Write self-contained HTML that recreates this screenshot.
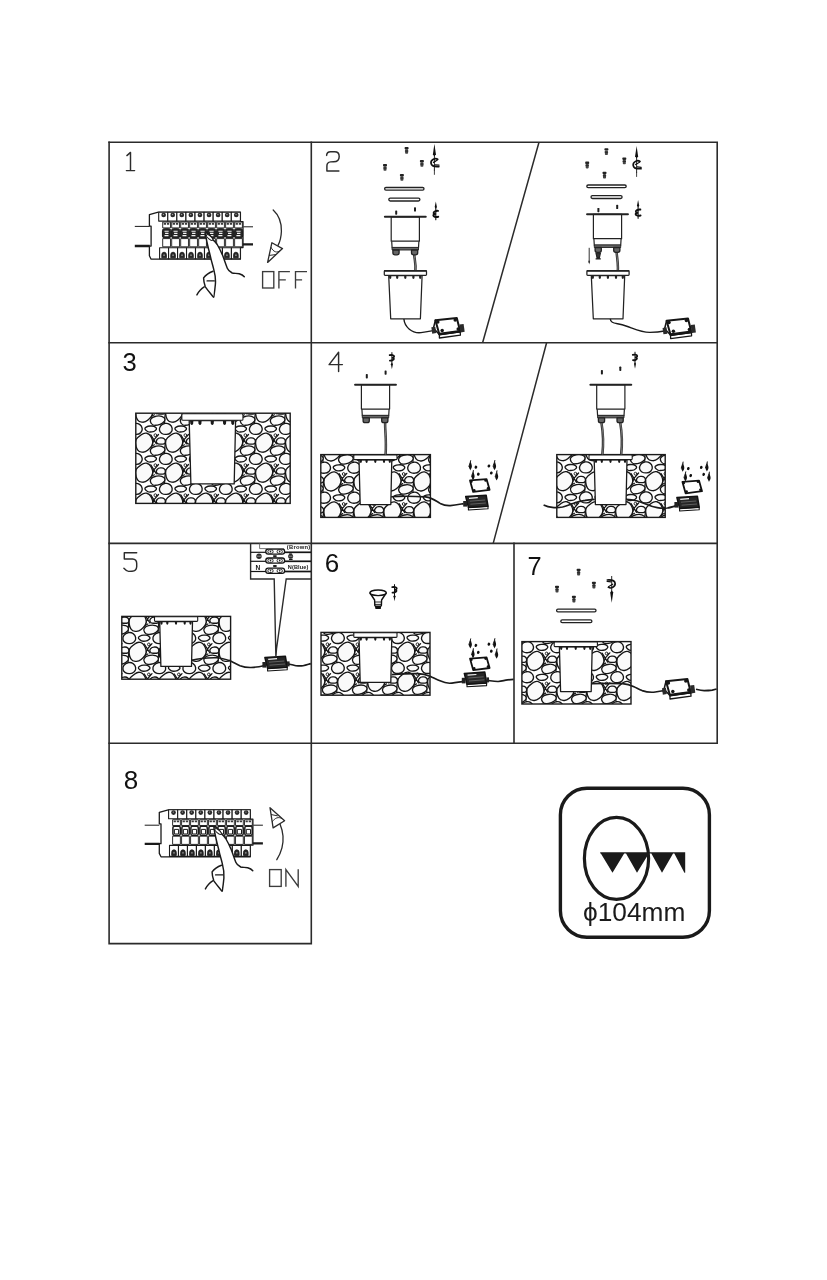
<!DOCTYPE html>
<html><head><meta charset="utf-8"><title>Installation</title>
<style>html,body{margin:0;padding:0;background:#fff;font-family:"Liberation Sans",sans-serif}svg{display:block;will-change:transform}</style>
</head><body>
<svg width="827" height="1280" viewBox="0 0 827 1280">
<rect width="827" height="1280" fill="#fff"/>
<defs>
<g id="gl" fill="none" stroke="#161616" stroke-width="1.25" stroke-linejoin="round" stroke-linecap="round">
<path d="M-4.6 -0.4 L-1.5 4.6 L3.1 -0.7 M-1.5 4.6 L-4.4 12.3 M-1.5 4.6 L1 8.6 M10.4 4.6 L9.4 12.3 L9.2 17.4 M26.1 11.1 L29 9.6"/>
</g>
<g id="gs" fill="#fafafa" stroke="#161616" stroke-width="1.35" stroke-linejoin="round" stroke-linecap="round">
<path d="M10.16 7.59Q9.90 4.40 12.38 2.38L15.89 -0.47Q18.38 -2.49 20.90 -2.06L21.47 -1.96Q23.99 -1.54 25.46 1.31L26.24 2.83Q27.70 5.67 27.18 8.20L27.06 8.76Q26.54 11.29 24.15 13.42L22.25 15.10Q19.86 17.23 17.00 16.99L16.36 16.93Q13.50 16.70 12.16 14.65L11.87 14.19Q10.53 12.14 10.27 8.95Z"/>
<circle cx="0" cy="0" r="1.4" stroke-width="0.9" fill="#fff"/>
<path d="M1.22 7.31Q0.41 6.02 1.55 4.54L1.81 4.21Q2.95 2.73 4.95 2.65L5.83 2.61Q7.83 2.52 8.88 3.67L9.11 3.92Q10.16 5.06 9.92 6.78L9.87 7.16Q9.63 8.88 7.63 8.88L4.21 8.88Q2.21 8.88 1.40 7.59Z"/>
<path d="M-4.37 17.83Q-5.76 15.74 -4.61 14.02L-4.36 13.64Q-3.21 11.92 -0.28 11.27L1.07 10.98Q4.00 10.33 6.28 11.14L6.79 11.32Q9.08 12.13 9.42 13.75L9.49 14.11Q9.83 15.74 7.63 17.45L7.14 17.83Q4.95 19.55 1.97 19.88L0.30 20.07Q-2.68 20.40 -4.07 18.30Z"/>
<path d="M4.06 -5.24Q3.73 -7.05 5.02 -8.91L5.30 -9.33Q6.59 -11.19 9.12 -11.67L9.68 -11.77Q12.21 -12.25 14.07 -10.86L14.48 -10.56Q16.34 -9.17 16.68 -7.08L16.75 -6.61Q17.09 -4.51 15.56 -2.89L15.22 -2.53Q13.69 -0.91 11.17 -0.81L10.60 -0.79Q8.08 -0.69 6.45 -1.74L6.09 -1.98Q4.47 -3.03 4.14 -4.84Z"/>
<path d="M20.27 -5.27Q18.72 -6.83 20.43 -7.88L20.82 -8.11Q22.53 -9.16 24.73 -9.20L26.48 -9.23Q28.68 -9.26 30.06 -8.02L30.37 -7.75Q31.75 -6.51 30.37 -5.12L30.06 -4.82Q28.68 -3.43 26.49 -3.28L24.73 -3.16Q22.53 -3.01 20.98 -4.57Z"/>
</g>
<pattern id="gp" width="30" height="30" patternUnits="userSpaceOnUse">
<rect width="30" height="30" fill="#fff"/>
<use href="#gl" x="-30" y="-30"/>
<use href="#gl" x="-30" y="0"/>
<use href="#gl" x="-30" y="30"/>
<use href="#gl" x="0" y="-30"/>
<use href="#gl" x="0" y="0"/>
<use href="#gl" x="0" y="30"/>
<use href="#gl" x="30" y="-30"/>
<use href="#gl" x="30" y="0"/>
<use href="#gl" x="30" y="30"/>
<use href="#gs" x="-30" y="-30"/>
<use href="#gs" x="-30" y="0"/>
<use href="#gs" x="-30" y="30"/>
<use href="#gs" x="0" y="-30"/>
<use href="#gs" x="0" y="0"/>
<use href="#gs" x="0" y="30"/>
<use href="#gs" x="30" y="-30"/>
<use href="#gs" x="30" y="0"/>
<use href="#gs" x="30" y="30"/>
</pattern>
<g id="screw"><rect x="-2" y="-3.4" width="4" height="2.4" rx="0.8" fill="#222"/><rect x="-1.5" y="-1.2" width="3" height="4.6" rx="0.8" fill="#444"/><rect x="-1.7" y="0.2" width="3.4" height="0.9" fill="#262626"/></g>
<g id="twist" fill="none" stroke="#111" stroke-linecap="round"><path d="M0 0 L1.5 10.4 L0 12.6 L-1.5 10.4Z" fill="#111" stroke="none"/><path d="M0 10 L0 26.4" stroke-width="0.9"/><path d="M3.2 15.6 C1 13.6 -3.8 16 -3.4 19.4 C-3 22.6 1.6 23 4.4 22.8" stroke-width="1.7"/><path d="M-1 18.6 C1 17.2 3.6 16.6 3.4 15.4 M0.6 21 L4.6 21.4" stroke-width="1.2"/></g>
<g id="twists" fill="none" stroke="#111" stroke-linecap="round"><path d="M0 0 L1 5 L0 6.6 L-1 5Z" fill="#111" stroke="none"/><path d="M0 5 L0 16.6" stroke-width="1"/><path d="M2 8.6 C0.4 8.4 -2.2 9.2 -2 10.6 C-1.8 11.6 -0.6 11.4 0 11.4 C-1 11.4 -2.4 11.8 -2.2 13 C-2 14.2 0.4 14.4 2.2 14" stroke-width="1.8"/></g>
<g id="topfix" fill="#fff" stroke="#222" stroke-width="1.2" stroke-linejoin="round">
<path d="M-13.6 24.4 L-13.2 31 L13.2 31 L13.6 24.4"/>
<rect x="-14.1" y="0" width="28.2" height="24.4"/>
<rect x="-13.2" y="30.6" width="26.4" height="2.6" fill="#666" stroke-width="0.9"/>
<path d="M-12.4 33.2 L-12.4 36 Q-12.4 38 -10.4 38 L-8.2 38 Q-6.2 38 -6.2 36 L-6.2 33.2Z" fill="#666" stroke-width="1.3"/>
<path d="M6.2 33.2 L6.2 36 Q6.2 38 8.2 38 L10.4 38 Q12.4 38 12.4 36 L12.4 33.2Z" fill="#666" stroke-width="1.3"/>
<path d="M-20.4 0 L20.4 0" stroke-width="2.1" stroke-linecap="round"/>
</g>
<g id="pin"><rect x="-1" y="-2.2" width="2" height="4.4" rx="0.7" fill="#1c1c1c"/></g>
<g id="housing" fill="#fff" stroke="#222" stroke-width="1.25" stroke-linejoin="round">
<path d="M-16.7 5 L16.7 5 L15 48.2 L-14.7 48.2Z"/>
<path d="M-16.3 5 l0 2.2 a1.1 1.1 0 0 0 2.2 0 l0 -2.2Z" fill="#222" stroke="none"/>
<path d="M-9.3 5 l0 2.2 a1.1 1.1 0 0 0 2.2 0 l0 -2.2Z" fill="#222" stroke="none"/>
<path d="M-1.2 5 l0 2.2 a1.1 1.1 0 0 0 2.2 0 l0 -2.2Z" fill="#222" stroke="none"/>
<path d="M6.9 5 l0 2.2 a1.1 1.1 0 0 0 2.2 0 l0 -2.2Z" fill="#222" stroke="none"/>
<path d="M13.7 5 l0 2.2 a1.1 1.1 0 0 0 2.2 0 l0 -2.2Z" fill="#222" stroke="none"/>
<rect x="-21.1" y="0" width="42.2" height="4.8" rx="0.8"/>
<path d="M-21.1 0.2 L21.1 0.2" stroke-width="1.8"/>
</g>
<g id="rings" fill="#fff" stroke="#222" stroke-width="1.3"><rect x="-19.7" y="0.6" width="39.4" height="2.7" rx="1.35"/><rect x="-15.5" y="11.2" width="31.1" height="2.9" rx="1.45"/></g>
<g id="cbox" stroke="#151515" stroke-linejoin="round" stroke-linecap="round">
<path d="M-9.4 7 L-9.4 10.6 L11.6 7.8 L11.4 4.2Z" fill="#fff" stroke-width="1.3"/>
<path d="M-13.4 -7.2 L8 -9.4 L11.4 4.2 L-9.4 7Z" fill="#fff" stroke-width="2"/>
<path d="M-9.2 6.6 L11.2 3.9" fill="none" stroke-width="2.6"/>
<path d="M-13.4 -7.2 L-15.4 0.8 L-9.4 7" fill="none" stroke-width="1.5"/>
<circle cx="-11.0" cy="-5.4" r="1.75" fill="#151515" stroke="none"/>
<circle cx="6.4" cy="-7.4" r="1.75" fill="#151515" stroke="none"/>
<circle cx="-6.6" cy="3.2" r="1.75" fill="#151515" stroke="none"/>
<circle cx="9.4" cy="1.6" r="1.75" fill="#151515" stroke="none"/>
<rect x="-17" y="-0.4" width="4" height="6.4" fill="#2a2a2a" stroke="none" transform="rotate(-8 -15 3)"/>
<rect x="11.2" y="-3.2" width="4.2" height="8" fill="#2a2a2a" stroke="none" transform="rotate(-8 13 1)"/>
</g>
<g id="obase" stroke="#111" stroke-linejoin="round">
<path d="M-9 4 L-9 6.6 L10.6 5.4 L10.6 2.8Z" fill="#fff" stroke-width="1.1"/>
<path d="M-11.7 -6.8 L8.8 -8.1 L10.6 2.8 L-9 4Z" fill="#262626" stroke-width="1.5"/>
<path d="M-8.4 -5 L0.4 -5.7" stroke="#f2f2f2" stroke-width="1.2" fill="none"/>
<path d="M-7.6 -2.2 L7.6 -3.4 M-7 0.8 L8.4 -0.4" stroke="#777" stroke-width="0.7" fill="none"/>
<rect x="-14.2" y="-2.4" width="3.8" height="5.6" fill="#222" stroke="none"/>
</g>
<g id="lid" stroke="#111" stroke-linejoin="round">
<path d="M-9.8 -5 L6.8 -6.2 L9.8 4.4 L-6.6 6.5Z" fill="#fff" stroke-width="1.8"/>
<circle cx="-8.4" cy="-3.8" r="1.3" fill="#111" stroke="none"/>
<circle cx="5.8" cy="-5.0" r="1.3" fill="#111" stroke="none"/>
<circle cx="-5.6" cy="4.8" r="1.3" fill="#111" stroke="none"/>
<circle cx="8.2" cy="3.0" r="1.3" fill="#111" stroke="none"/>
</g>
<g id="fscrews" fill="#111" stroke="#111" stroke-linecap="round">
<path d="M-9.1 -24.8 C-8.9 -21.8 -7.8 -20.4 -7.9 -18.8 C-8.0 -17.2 -8.8 -16.4 -9.5 -15.0 C-10.0 -16.4 -11.0 -17.2 -10.9 -18.8Z" stroke="none"/>
<path d="M-10.9 -18.8 C-10.8 -20.6 -9.6 -21.8 -9.1 -24.8" fill="none" stroke-width="0.9"/>
<ellipse cx="-3.9" cy="-18.2" rx="1.35" ry="1.6" stroke="none" transform="rotate(20 -3.9 -18.2)"/>
<path d="M-6.4 -15.0 C-6.2 -12.0 -5.1 -10.6 -5.2 -9.0 C-5.3 -7.4 -6.1 -6.6 -6.8 -5.2 C-7.3 -6.6 -8.3 -7.4 -8.2 -9.0Z" stroke="none"/>
<path d="M-8.2 -9.0 C-8.1 -10.8 -6.9 -12.0 -6.4 -15.0" fill="none" stroke-width="0.9"/>
<ellipse cx="-1.5" cy="-11.2" rx="1.35" ry="1.6" stroke="none" transform="rotate(20 -1.5 -11.2)"/>
<ellipse cx="9.1" cy="-19.4" rx="1.35" ry="1.6" stroke="none" transform="rotate(20 9.1 -19.4)"/>
<path d="M15.1 -25.0 C15.3 -22.0 16.4 -20.6 16.3 -19.0 C16.2 -17.4 15.4 -16.6 14.7 -15.2 C14.2 -16.6 13.2 -17.4 13.3 -19.0Z" stroke="none"/>
<path d="M13.3 -19.0 C13.4 -20.8 14.6 -22.0 15.1 -25.0" fill="none" stroke-width="0.9"/>
<ellipse cx="11.5" cy="-12.4" rx="1.35" ry="1.6" stroke="none" transform="rotate(20 11.5 -12.4)"/>
<path d="M17.2 -14.7 C17.4 -11.7 18.5 -10.3 18.4 -8.7 C18.3 -7.1 17.5 -6.3 16.8 -4.9 C16.3 -6.3 15.3 -7.1 15.4 -8.7Z" stroke="none"/>
<path d="M15.4 -8.7 C15.5 -10.5 16.7 -11.7 17.2 -14.7" fill="none" stroke-width="0.9"/>
</g>
<clipPath id="gc1"><rect x="135.8" y="413.2" width="154.4" height="90.2"/></clipPath>
<clipPath id="gc2"><rect x="320.8" y="454.6" width="109.6" height="62.8"/></clipPath>
<clipPath id="gc3"><rect x="556.8" y="454.6" width="108.4" height="62.8"/></clipPath>
<clipPath id="gc4"><rect x="121.8" y="616.4" width="108.8" height="62.8"/></clipPath>
<clipPath id="gc5"><rect x="321.0" y="632.4" width="109.0" height="62.8"/></clipPath>
<clipPath id="gc6"><rect x="521.9" y="641.6" width="109.1" height="62.4"/></clipPath>
</defs>
<g stroke="#2b2b2b" stroke-width="1.6" fill="none" stroke-linecap="square"><path d="M109.1 142.2 H717.2 V743.2 H109.1"/><path d="M109.1 142.2 V943.6 H311.3 V142.2"/><path d="M109.1 342.8 H717.2 M109.1 543.4 H717.2"/><path d="M514 543.4 V743.2"/><path d="M539 142.2 L482.6 342.8 M546.6 342.8 L493.2 543.4" stroke-width="1.5" stroke-linecap="butt"/></g>
<g font-family="Liberation Sans, sans-serif" fill="#111"><text x="122.6" y="370.6" font-size="25.6">3</text><text x="324.8" y="571.5" font-size="26">6</text><text x="527.5" y="574.6" font-size="25.4">7</text><text x="123.8" y="789.3" font-size="26">8</text></g>
<g fill="none" stroke="#2c2c2c" stroke-width="1.45" stroke-linecap="round" stroke-linejoin="round"><path d="M126.9 155.6 L130.5 152.4 L130.5 170.6 M126.4 170.6 L134.6 170.6"/><path d="M326.6 155.4 Q326.8 151.8 330.6 151.8 L334.6 151.8 Q339.2 151.8 339.2 156.4 Q339.2 161.6 333.6 161.8 L330.6 161.9 Q326.9 162.2 326.9 166 L326.9 170.9 L338.9 170.9"/><path d="M338.6 371.4 L338.6 352.3 L329.1 364.6 L342.4 364.6"/><path d="M136.7 552.7 L124.3 552.7 L124.3 559 L132.6 559 Q136.7 559.4 136.7 563.4 L136.7 566.8 Q136.5 571 132 571.2 L128.6 571.4 Q126.6 571.2 123.9 568.2"/></g>
<rect x="135.8" y="413.2" width="154.4" height="90.2" fill="#fff"/>
<g clip-path="url(#gc1)">
<use href="#gl" x="125.4" y="405.2"/>
<use href="#gl" x="125.4" y="435.2"/>
<use href="#gl" x="125.4" y="465.2"/>
<use href="#gl" x="125.4" y="495.2"/>
<use href="#gl" x="155.4" y="405.2"/>
<use href="#gl" x="155.4" y="435.2"/>
<use href="#gl" x="155.4" y="465.2"/>
<use href="#gl" x="155.4" y="495.2"/>
<use href="#gl" x="185.4" y="405.2"/>
<use href="#gl" x="185.4" y="435.2"/>
<use href="#gl" x="185.4" y="465.2"/>
<use href="#gl" x="185.4" y="495.2"/>
<use href="#gl" x="215.4" y="405.2"/>
<use href="#gl" x="215.4" y="435.2"/>
<use href="#gl" x="215.4" y="465.2"/>
<use href="#gl" x="215.4" y="495.2"/>
<use href="#gl" x="245.4" y="405.2"/>
<use href="#gl" x="245.4" y="435.2"/>
<use href="#gl" x="245.4" y="465.2"/>
<use href="#gl" x="245.4" y="495.2"/>
<use href="#gl" x="275.4" y="405.2"/>
<use href="#gl" x="275.4" y="435.2"/>
<use href="#gl" x="275.4" y="465.2"/>
<use href="#gl" x="275.4" y="495.2"/>
<use href="#gs" x="125.4" y="405.2"/>
<use href="#gs" x="125.4" y="435.2"/>
<use href="#gs" x="125.4" y="465.2"/>
<use href="#gs" x="125.4" y="495.2"/>
<use href="#gs" x="155.4" y="405.2"/>
<use href="#gs" x="155.4" y="435.2"/>
<use href="#gs" x="155.4" y="465.2"/>
<use href="#gs" x="155.4" y="495.2"/>
<use href="#gs" x="185.4" y="405.2"/>
<use href="#gs" x="185.4" y="435.2"/>
<use href="#gs" x="185.4" y="465.2"/>
<use href="#gs" x="185.4" y="495.2"/>
<use href="#gs" x="215.4" y="405.2"/>
<use href="#gs" x="215.4" y="435.2"/>
<use href="#gs" x="215.4" y="465.2"/>
<use href="#gs" x="215.4" y="495.2"/>
<use href="#gs" x="245.4" y="405.2"/>
<use href="#gs" x="245.4" y="435.2"/>
<use href="#gs" x="245.4" y="465.2"/>
<use href="#gs" x="245.4" y="495.2"/>
<use href="#gs" x="275.4" y="405.2"/>
<use href="#gs" x="275.4" y="435.2"/>
<use href="#gs" x="275.4" y="465.2"/>
<use href="#gs" x="275.4" y="495.2"/>
</g>
<rect x="135.8" y="413.2" width="154.4" height="90.2" fill="none" stroke="#1a1a1a" stroke-width="1.4"/>
<g transform="translate(212.4 413.2) scale(1.415)" fill="#fff" stroke="#1a1a1a" stroke-width="0.92" stroke-linejoin="round">
<path d="M-16.4 5.2 L16.4 5.2 L15.4 50 L-15.2 50Z"/>
<path d="M-15.8 5.2 l0.2 2.2 q1.1 2 2 0 l0.2 -2.2Z" fill="#1a1a1a" stroke="none"/>
<path d="M-10.0 5.2 l0.2 2.2 q1.1 2 2 0 l0.2 -2.2Z" fill="#1a1a1a" stroke="none"/>
<path d="M-1.3 5.2 l0.2 2.2 q1.1 2 2 0 l0.2 -2.2Z" fill="#1a1a1a" stroke="none"/>
<path d="M7.4 5.2 l0.2 2.2 q1.1 2 2 0 l0.2 -2.2Z" fill="#1a1a1a" stroke="none"/>
<path d="M13.2 5.2 l0.2 2.2 q1.1 2 2 0 l0.2 -2.2Z" fill="#1a1a1a" stroke="none"/>
<rect x="-21.6" y="0.4" width="43.2" height="4.6" rx="0.8" stroke-width="0.78"/>
</g>
<rect x="320.8" y="454.6" width="109.6" height="62.8" fill="#fff"/>
<g clip-path="url(#gc2)">
<use href="#gl" x="313.7" y="444.0"/>
<use href="#gl" x="313.7" y="474.0"/>
<use href="#gl" x="313.7" y="504.0"/>
<use href="#gl" x="343.7" y="444.0"/>
<use href="#gl" x="343.7" y="474.0"/>
<use href="#gl" x="343.7" y="504.0"/>
<use href="#gl" x="373.7" y="444.0"/>
<use href="#gl" x="373.7" y="474.0"/>
<use href="#gl" x="373.7" y="504.0"/>
<use href="#gl" x="403.7" y="444.0"/>
<use href="#gl" x="403.7" y="474.0"/>
<use href="#gl" x="403.7" y="504.0"/>
<use href="#gl" x="433.7" y="444.0"/>
<use href="#gl" x="433.7" y="474.0"/>
<use href="#gl" x="433.7" y="504.0"/>
<use href="#gs" x="313.7" y="444.0"/>
<use href="#gs" x="313.7" y="474.0"/>
<use href="#gs" x="313.7" y="504.0"/>
<use href="#gs" x="343.7" y="444.0"/>
<use href="#gs" x="343.7" y="474.0"/>
<use href="#gs" x="343.7" y="504.0"/>
<use href="#gs" x="373.7" y="444.0"/>
<use href="#gs" x="373.7" y="474.0"/>
<use href="#gs" x="373.7" y="504.0"/>
<use href="#gs" x="403.7" y="444.0"/>
<use href="#gs" x="403.7" y="474.0"/>
<use href="#gs" x="403.7" y="504.0"/>
<use href="#gs" x="433.7" y="444.0"/>
<use href="#gs" x="433.7" y="474.0"/>
<use href="#gs" x="433.7" y="504.0"/>
</g>
<rect x="320.8" y="454.6" width="109.6" height="62.8" fill="none" stroke="#1a1a1a" stroke-width="1.4"/>
<g transform="translate(375.4 454.6) scale(1.000)" fill="#fff" stroke="#1a1a1a" stroke-width="1.30" stroke-linejoin="round">
<path d="M-16.4 5.2 L16.4 5.2 L15.4 50 L-15.2 50Z"/>
<path d="M-15.8 5.2 l0.2 2.2 q1.1 2 2 0 l0.2 -2.2Z" fill="#1a1a1a" stroke="none"/>
<path d="M-10.0 5.2 l0.2 2.2 q1.1 2 2 0 l0.2 -2.2Z" fill="#1a1a1a" stroke="none"/>
<path d="M-1.3 5.2 l0.2 2.2 q1.1 2 2 0 l0.2 -2.2Z" fill="#1a1a1a" stroke="none"/>
<path d="M7.4 5.2 l0.2 2.2 q1.1 2 2 0 l0.2 -2.2Z" fill="#1a1a1a" stroke="none"/>
<path d="M13.2 5.2 l0.2 2.2 q1.1 2 2 0 l0.2 -2.2Z" fill="#1a1a1a" stroke="none"/>
<rect x="-21.6" y="0.4" width="43.2" height="4.6" rx="0.8" stroke-width="1.10"/>
</g>
<rect x="556.8" y="454.6" width="108.4" height="62.8" fill="#fff"/>
<g clip-path="url(#gc3)">
<use href="#gl" x="545.5" y="443.7"/>
<use href="#gl" x="545.5" y="473.7"/>
<use href="#gl" x="545.5" y="503.7"/>
<use href="#gl" x="575.5" y="443.7"/>
<use href="#gl" x="575.5" y="473.7"/>
<use href="#gl" x="575.5" y="503.7"/>
<use href="#gl" x="605.5" y="443.7"/>
<use href="#gl" x="605.5" y="473.7"/>
<use href="#gl" x="605.5" y="503.7"/>
<use href="#gl" x="635.5" y="443.7"/>
<use href="#gl" x="635.5" y="473.7"/>
<use href="#gl" x="635.5" y="503.7"/>
<use href="#gl" x="665.5" y="443.7"/>
<use href="#gl" x="665.5" y="473.7"/>
<use href="#gl" x="665.5" y="503.7"/>
<use href="#gs" x="545.5" y="443.7"/>
<use href="#gs" x="545.5" y="473.7"/>
<use href="#gs" x="545.5" y="503.7"/>
<use href="#gs" x="575.5" y="443.7"/>
<use href="#gs" x="575.5" y="473.7"/>
<use href="#gs" x="575.5" y="503.7"/>
<use href="#gs" x="605.5" y="443.7"/>
<use href="#gs" x="605.5" y="473.7"/>
<use href="#gs" x="605.5" y="503.7"/>
<use href="#gs" x="635.5" y="443.7"/>
<use href="#gs" x="635.5" y="473.7"/>
<use href="#gs" x="635.5" y="503.7"/>
<use href="#gs" x="665.5" y="443.7"/>
<use href="#gs" x="665.5" y="473.7"/>
<use href="#gs" x="665.5" y="503.7"/>
</g>
<rect x="556.8" y="454.6" width="108.4" height="62.8" fill="none" stroke="#1a1a1a" stroke-width="1.4"/>
<g transform="translate(610.6 454.6) scale(1.000)" fill="#fff" stroke="#1a1a1a" stroke-width="1.30" stroke-linejoin="round">
<path d="M-16.4 5.2 L16.4 5.2 L15.4 50 L-15.2 50Z"/>
<path d="M-15.8 5.2 l0.2 2.2 q1.1 2 2 0 l0.2 -2.2Z" fill="#1a1a1a" stroke="none"/>
<path d="M-10.0 5.2 l0.2 2.2 q1.1 2 2 0 l0.2 -2.2Z" fill="#1a1a1a" stroke="none"/>
<path d="M-1.3 5.2 l0.2 2.2 q1.1 2 2 0 l0.2 -2.2Z" fill="#1a1a1a" stroke="none"/>
<path d="M7.4 5.2 l0.2 2.2 q1.1 2 2 0 l0.2 -2.2Z" fill="#1a1a1a" stroke="none"/>
<path d="M13.2 5.2 l0.2 2.2 q1.1 2 2 0 l0.2 -2.2Z" fill="#1a1a1a" stroke="none"/>
<rect x="-21.6" y="0.4" width="43.2" height="4.6" rx="0.8" stroke-width="1.10"/>
</g>
<rect x="121.8" y="616.4" width="108.8" height="62.8" fill="#fff"/>
<g clip-path="url(#gc4)">
<use href="#gl" x="118.9" y="614.4"/>
<use href="#gl" x="118.9" y="644.4"/>
<use href="#gl" x="118.9" y="674.4"/>
<use href="#gl" x="148.9" y="614.4"/>
<use href="#gl" x="148.9" y="644.4"/>
<use href="#gl" x="148.9" y="674.4"/>
<use href="#gl" x="178.9" y="614.4"/>
<use href="#gl" x="178.9" y="644.4"/>
<use href="#gl" x="178.9" y="674.4"/>
<use href="#gl" x="208.9" y="614.4"/>
<use href="#gl" x="208.9" y="644.4"/>
<use href="#gl" x="208.9" y="674.4"/>
<use href="#gs" x="118.9" y="614.4"/>
<use href="#gs" x="118.9" y="644.4"/>
<use href="#gs" x="118.9" y="674.4"/>
<use href="#gs" x="148.9" y="614.4"/>
<use href="#gs" x="148.9" y="644.4"/>
<use href="#gs" x="148.9" y="674.4"/>
<use href="#gs" x="178.9" y="614.4"/>
<use href="#gs" x="178.9" y="644.4"/>
<use href="#gs" x="178.9" y="674.4"/>
<use href="#gs" x="208.9" y="614.4"/>
<use href="#gs" x="208.9" y="644.4"/>
<use href="#gs" x="208.9" y="674.4"/>
</g>
<rect x="121.8" y="616.4" width="108.8" height="62.8" fill="none" stroke="#1a1a1a" stroke-width="1.4"/>
<g transform="translate(176.1 616.4) scale(1.000)" fill="#fff" stroke="#1a1a1a" stroke-width="1.30" stroke-linejoin="round">
<path d="M-16.4 5.2 L16.4 5.2 L15.4 50 L-15.2 50Z"/>
<path d="M-15.8 5.2 l0.2 2.2 q1.1 2 2 0 l0.2 -2.2Z" fill="#1a1a1a" stroke="none"/>
<path d="M-10.0 5.2 l0.2 2.2 q1.1 2 2 0 l0.2 -2.2Z" fill="#1a1a1a" stroke="none"/>
<path d="M-1.3 5.2 l0.2 2.2 q1.1 2 2 0 l0.2 -2.2Z" fill="#1a1a1a" stroke="none"/>
<path d="M7.4 5.2 l0.2 2.2 q1.1 2 2 0 l0.2 -2.2Z" fill="#1a1a1a" stroke="none"/>
<path d="M13.2 5.2 l0.2 2.2 q1.1 2 2 0 l0.2 -2.2Z" fill="#1a1a1a" stroke="none"/>
<rect x="-21.6" y="0.4" width="43.2" height="4.6" rx="0.8" stroke-width="1.10"/>
</g>
<rect x="321.0" y="632.4" width="109.0" height="62.8" fill="#fff"/>
<g clip-path="url(#gc5)">
<use href="#gl" x="297.5" y="614.3"/>
<use href="#gl" x="297.5" y="644.3"/>
<use href="#gl" x="297.5" y="674.3"/>
<use href="#gl" x="297.5" y="704.3"/>
<use href="#gl" x="327.5" y="614.3"/>
<use href="#gl" x="327.5" y="644.3"/>
<use href="#gl" x="327.5" y="674.3"/>
<use href="#gl" x="327.5" y="704.3"/>
<use href="#gl" x="357.5" y="614.3"/>
<use href="#gl" x="357.5" y="644.3"/>
<use href="#gl" x="357.5" y="674.3"/>
<use href="#gl" x="357.5" y="704.3"/>
<use href="#gl" x="387.5" y="614.3"/>
<use href="#gl" x="387.5" y="644.3"/>
<use href="#gl" x="387.5" y="674.3"/>
<use href="#gl" x="387.5" y="704.3"/>
<use href="#gl" x="417.5" y="614.3"/>
<use href="#gl" x="417.5" y="644.3"/>
<use href="#gl" x="417.5" y="674.3"/>
<use href="#gl" x="417.5" y="704.3"/>
<use href="#gs" x="297.5" y="614.3"/>
<use href="#gs" x="297.5" y="644.3"/>
<use href="#gs" x="297.5" y="674.3"/>
<use href="#gs" x="297.5" y="704.3"/>
<use href="#gs" x="327.5" y="614.3"/>
<use href="#gs" x="327.5" y="644.3"/>
<use href="#gs" x="327.5" y="674.3"/>
<use href="#gs" x="327.5" y="704.3"/>
<use href="#gs" x="357.5" y="614.3"/>
<use href="#gs" x="357.5" y="644.3"/>
<use href="#gs" x="357.5" y="674.3"/>
<use href="#gs" x="357.5" y="704.3"/>
<use href="#gs" x="387.5" y="614.3"/>
<use href="#gs" x="387.5" y="644.3"/>
<use href="#gs" x="387.5" y="674.3"/>
<use href="#gs" x="387.5" y="704.3"/>
<use href="#gs" x="417.5" y="614.3"/>
<use href="#gs" x="417.5" y="644.3"/>
<use href="#gs" x="417.5" y="674.3"/>
<use href="#gs" x="417.5" y="704.3"/>
</g>
<rect x="321.0" y="632.4" width="109.0" height="62.8" fill="none" stroke="#1a1a1a" stroke-width="1.4"/>
<g transform="translate(375.4 632.4) scale(1.000)" fill="#fff" stroke="#1a1a1a" stroke-width="1.30" stroke-linejoin="round">
<path d="M-16.4 5.2 L16.4 5.2 L15.4 50 L-15.2 50Z"/>
<path d="M-15.8 5.2 l0.2 2.2 q1.1 2 2 0 l0.2 -2.2Z" fill="#1a1a1a" stroke="none"/>
<path d="M-10.0 5.2 l0.2 2.2 q1.1 2 2 0 l0.2 -2.2Z" fill="#1a1a1a" stroke="none"/>
<path d="M-1.3 5.2 l0.2 2.2 q1.1 2 2 0 l0.2 -2.2Z" fill="#1a1a1a" stroke="none"/>
<path d="M7.4 5.2 l0.2 2.2 q1.1 2 2 0 l0.2 -2.2Z" fill="#1a1a1a" stroke="none"/>
<path d="M13.2 5.2 l0.2 2.2 q1.1 2 2 0 l0.2 -2.2Z" fill="#1a1a1a" stroke="none"/>
<rect x="-21.6" y="0.4" width="43.2" height="4.6" rx="0.8" stroke-width="1.10"/>
</g>
<rect x="521.9" y="641.6" width="109.1" height="62.4" fill="#fff"/>
<g clip-path="url(#gc6)">
<use href="#gl" x="516.7" y="623.5"/>
<use href="#gl" x="516.7" y="653.5"/>
<use href="#gl" x="516.7" y="683.5"/>
<use href="#gl" x="516.7" y="713.5"/>
<use href="#gl" x="546.7" y="623.5"/>
<use href="#gl" x="546.7" y="653.5"/>
<use href="#gl" x="546.7" y="683.5"/>
<use href="#gl" x="546.7" y="713.5"/>
<use href="#gl" x="576.7" y="623.5"/>
<use href="#gl" x="576.7" y="653.5"/>
<use href="#gl" x="576.7" y="683.5"/>
<use href="#gl" x="576.7" y="713.5"/>
<use href="#gl" x="606.7" y="623.5"/>
<use href="#gl" x="606.7" y="653.5"/>
<use href="#gl" x="606.7" y="683.5"/>
<use href="#gl" x="606.7" y="713.5"/>
<use href="#gl" x="636.7" y="623.5"/>
<use href="#gl" x="636.7" y="653.5"/>
<use href="#gl" x="636.7" y="683.5"/>
<use href="#gl" x="636.7" y="713.5"/>
<use href="#gs" x="516.7" y="623.5"/>
<use href="#gs" x="516.7" y="653.5"/>
<use href="#gs" x="516.7" y="683.5"/>
<use href="#gs" x="516.7" y="713.5"/>
<use href="#gs" x="546.7" y="623.5"/>
<use href="#gs" x="546.7" y="653.5"/>
<use href="#gs" x="546.7" y="683.5"/>
<use href="#gs" x="546.7" y="713.5"/>
<use href="#gs" x="576.7" y="623.5"/>
<use href="#gs" x="576.7" y="653.5"/>
<use href="#gs" x="576.7" y="683.5"/>
<use href="#gs" x="576.7" y="713.5"/>
<use href="#gs" x="606.7" y="623.5"/>
<use href="#gs" x="606.7" y="653.5"/>
<use href="#gs" x="606.7" y="683.5"/>
<use href="#gs" x="606.7" y="713.5"/>
<use href="#gs" x="636.7" y="623.5"/>
<use href="#gs" x="636.7" y="653.5"/>
<use href="#gs" x="636.7" y="683.5"/>
<use href="#gs" x="636.7" y="713.5"/>
</g>
<rect x="521.9" y="641.6" width="109.1" height="62.4" fill="none" stroke="#1a1a1a" stroke-width="1.4"/>
<g transform="translate(575.8 641.6) scale(1.000)" fill="#fff" stroke="#1a1a1a" stroke-width="1.30" stroke-linejoin="round">
<path d="M-16.4 5.2 L16.4 5.2 L15.4 50 L-15.2 50Z"/>
<path d="M-15.8 5.2 l0.2 2.2 q1.1 2 2 0 l0.2 -2.2Z" fill="#1a1a1a" stroke="none"/>
<path d="M-10.0 5.2 l0.2 2.2 q1.1 2 2 0 l0.2 -2.2Z" fill="#1a1a1a" stroke="none"/>
<path d="M-1.3 5.2 l0.2 2.2 q1.1 2 2 0 l0.2 -2.2Z" fill="#1a1a1a" stroke="none"/>
<path d="M7.4 5.2 l0.2 2.2 q1.1 2 2 0 l0.2 -2.2Z" fill="#1a1a1a" stroke="none"/>
<path d="M13.2 5.2 l0.2 2.2 q1.1 2 2 0 l0.2 -2.2Z" fill="#1a1a1a" stroke="none"/>
<rect x="-21.6" y="0.4" width="43.2" height="4.6" rx="0.8" stroke-width="1.10"/>
</g>
<g transform="translate(0.0 0.0)">
<use href="#screw" x="406.6" y="150.4"/>
<use href="#screw" x="385.0" y="167.4"/>
<use href="#screw" x="421.9" y="163.4"/>
<use href="#screw" x="401.9" y="177.4"/>
<use href="#rings" x="404.3" y="186.9"/>
<use href="#twist" x="434.4" y="143.8"/><path d="M434.4 169.8 v5" stroke="#111" stroke-width="0.8" fill="none"/>
<g transform="translate(435.8 201.4) scale(1.1)"><use href="#twists"/></g>
<use href="#pin" x="396.2" y="212.6"/><use href="#pin" x="415" y="209.4"/>
</g>
<g transform="translate(202.2 -2.5)">
<use href="#screw" x="404.2" y="154.1"/>
<use href="#screw" x="385.0" y="167.5"/>
<use href="#screw" x="422.1" y="163.4"/>
<use href="#screw" x="402.3" y="177.6"/>
<use href="#rings" x="404.3" y="186.9"/>
<use href="#twist" x="434.4" y="148.4"/><path d="M434.4 174.4 v5" stroke="#111" stroke-width="0.8" fill="none"/>
<g transform="translate(435.9 202.6) scale(1.1)"><use href="#twists"/></g>
<use href="#pin" x="396.2" y="212.6"/><use href="#pin" x="415" y="209.4"/>
</g>
<path d="M414.2 254.6 C414.6 260 416 264 415.4 270.6" fill="none" stroke="#2e2e2e" stroke-width="2.5"/><path d="M414.2 254.6 C414.6 260 416 264 415.4 270.6" fill="none" stroke="#aaa" stroke-width="0.6"/>
<path d="M616.6 252 C617 258 618.4 264 617.8 270.6" fill="none" stroke="#2e2e2e" stroke-width="2.5"/><path d="M616.6 252 C617 258 618.4 264 617.8 270.6" fill="none" stroke="#aaa" stroke-width="0.6"/>
<use href="#topfix" x="405.3" y="216.8"/>
<use href="#topfix" x="607.5" y="214.3"/>
<use href="#housing" x="405.4" y="270.6"/>
<use href="#housing" x="608" y="270.6"/>
<path d="M403.9 319 C404.6 327 412 333.6 421 332.6 C426 332 429 331.4 433.4 330.6" fill="none" stroke="#1a1a1a" stroke-width="1.4"/>
<use href="#cbox" x="448.8" y="327.4"/>
<path d="M610.3 318.9 C610.6 324 616 322.6 626 326 C636 329.6 642 332.6 650 332.4 C656 332.2 660 331.8 664.4 331" fill="none" stroke="#1a1a1a" stroke-width="1.4"/>
<use href="#cbox" x="680" y="328"/>
<path d="M589.2 247.8 V263" stroke="#333" stroke-width="1" fill="none"/><path d="M589.2 264.4 l-1 -3.6 l2 0Z" fill="#333"/>
<path d="M596 253 L600.4 253 L599.4 257.6 L597 257.6Z M595.6 258.8 L600.8 258.8" fill="#333" stroke="#222" stroke-width="1.2"/>
<path d="M385.1 422.4 C385 432 386.6 440 385.6 454.4" fill="none" stroke="#2e2e2e" stroke-width="2.5"/><path d="M385.1 422.4 C385 432 386.6 440 385.6 454.4" fill="none" stroke="#aaa" stroke-width="0.6"/>
<use href="#topfix" x="375.5" y="384.7"/>
<use href="#pin" x="366.8" y="376.2"/><use href="#pin" x="385.6" y="372.6"/>
<use href="#twists" x="391.9" y="352" transform="rotate(180 391.9 360.6)"/>
<path d="M601.4 422.4 C603.0 432 604.0 440 602.4 454.4" fill="none" stroke="#2e2e2e" stroke-width="2.5"/>
<path d="M601.4 422.4 C603.0 432 604.0 440 602.4 454.4" fill="none" stroke="#aaa" stroke-width="0.6"/>
<path d="M620.2 422.4 C621.8 432 622.8 440 621.2 454.4" fill="none" stroke="#2e2e2e" stroke-width="2.5"/>
<path d="M620.2 422.4 C621.8 432 622.8 440 621.2 454.4" fill="none" stroke="#aaa" stroke-width="0.6"/>
<use href="#topfix" x="610.8" y="384.7"/>
<use href="#pin" x="601.9" y="372.2"/><use href="#pin" x="620.3" y="368.8"/>
<use href="#twists" x="635" y="351.6" transform="rotate(180 635 360.2)"/>
<path d="M391.2 496.8 C402 496 414 496.2 425.6 496.9 C432 497.6 436 501 440.2 503.4 C444 505.4 447 505.8 450.3 505.6 C455 505.2 459 504.4 463.6 503.6" fill="none" stroke="#1a1a1a" stroke-width="1.65"/>
<use href="#obase" x="477.4" y="503.4"/><use href="#lid" x="479.8" y="485.4"/><use href="#fscrews" x="479.8" y="485.4"/>
<path d="M543.6 504.9 C546 506 549 507 552.3 507.4 C556 507.8 559 507.6 562.6 507 C566 506.2 569 504.8 572.9 503.5 C577 502.2 581 501 585.2 500.4 C588 499.8 591 499.6 594.8 499.4" fill="none" stroke="#1a1a1a" stroke-width="1.65"/>
<path d="M626.4 499.4 C630 499.6 633 500 636.6 500.8 C640 501.8 643 503 646.9 504.5 C650 505.8 653 507 657.2 507.6 C660 508.2 664 508.4 667.4 508 C670 507.6 673 506.6 676.7 505.4" fill="none" stroke="#1a1a1a" stroke-width="1.65"/>
<use href="#obase" x="688.6" y="504.4"/><use href="#lid" x="692.2" y="486.8"/><use href="#fscrews" x="692.2" y="486.8"/>
<path d="M191.8 660.4 C198 658.6 206 657.6 216.4 657.8 C222 658 226 659.4 230.6 661 C234 662.6 237 664.4 240 665.7 C244 667.2 247 667.6 251 667.5 C256 667.2 260 666.6 263.6 665.7" fill="none" stroke="#1a1a1a" stroke-width="1.65"/>
<path d="M288.8 664.1 C292 664.6 294 665.4 296 665.7 C299 666 301 666 303 665.7 C306 665.2 308 664.4 310.8 663.6" fill="none" stroke="#1a1a1a" stroke-width="1.65"/>
<use href="#obase" x="276.6" y="664.4"/><rect x="287" y="661.4" width="2.6" height="5" fill="#222"/>
<g fill="none" stroke="#2b2b2b" stroke-width="1.4"><path d="M250.6 543.4 V579 H274.2 L275.7 649 L275.9 657 M311.3 579 H286.2 L276.5 649 L275.9 657"/></g>
<g stroke="#151515" fill="none">
<path d="M250.6 552.3 H266" stroke-width="1.2"/><path d="M284.6 552.3 H311" stroke-width="1.7"/>
<rect x="265.8" y="549.0" width="18.8" height="5.2" rx="2.4" fill="#fff" stroke-width="1.3"/>
<rect x="267.9" y="549.9" width="5.2" height="3.4" rx="1.5" fill="#fff" stroke-width="0.9"/>
<circle cx="270.5" cy="551.6" r="0.8" fill="#222" stroke="none"/>
<rect x="277.1" y="549.9" width="5.2" height="3.4" rx="1.5" fill="#fff" stroke-width="0.9"/>
<circle cx="279.7" cy="551.6" r="0.8" fill="#222" stroke="none"/>
<path d="M250.6 561.3 H266" stroke-width="1.2"/><path d="M284.6 561.3 H311" stroke-width="1.7"/>
<rect x="265.8" y="558.0" width="18.8" height="5.2" rx="2.4" fill="#fff" stroke-width="1.3"/>
<rect x="267.9" y="558.9" width="5.2" height="3.4" rx="1.5" fill="#fff" stroke-width="0.9"/>
<circle cx="270.5" cy="560.6" r="0.8" fill="#222" stroke="none"/>
<rect x="277.1" y="558.9" width="5.2" height="3.4" rx="1.5" fill="#fff" stroke-width="0.9"/>
<circle cx="279.7" cy="560.6" r="0.8" fill="#222" stroke="none"/>
<path d="M250.6 571.5 H266" stroke-width="1.2"/><path d="M284.6 571.5 H311" stroke-width="1.7"/>
<rect x="265.8" y="568.2" width="18.8" height="5.2" rx="2.4" fill="#fff" stroke-width="1.3"/>
<rect x="267.9" y="569.1" width="5.2" height="3.4" rx="1.5" fill="#fff" stroke-width="0.9"/>
<circle cx="270.5" cy="570.8" r="0.8" fill="#222" stroke="none"/>
<rect x="277.1" y="569.1" width="5.2" height="3.4" rx="1.5" fill="#fff" stroke-width="0.9"/>
<circle cx="279.7" cy="570.8" r="0.8" fill="#222" stroke="none"/>
<rect x="273.2" y="555.2" width="3.4" height="2.2" fill="#222" stroke="none"/><rect x="273.2" y="565" width="3.4" height="2.2" fill="#222" stroke="none"/>
<circle cx="259" cy="556.2" r="2.7" fill="#2a2a2a" stroke="none"/><circle cx="290.6" cy="556.2" r="2.5" fill="#2a2a2a" stroke="none"/>
<path d="M256.8 556.2 H261.2 M288.6 556.2 H292.6" stroke="#bbb" stroke-width="0.7"/>
<path d="M289 559.4 H292.6 M289 552.8 H292" stroke-width="1.3"/>
<path d="M259.6 543.6 V548.6 H284" stroke-width="0.9" stroke="#666"/>
</g>
<g font-family="Liberation Sans, sans-serif" font-weight="bold" fill="#151515" style="opacity:.999"><text x="255.4" y="569.8" font-size="6.6">N</text><text x="286.8" y="548.7" font-size="5.8" textLength="23.4">(Brown)</text><text x="287.8" y="568.8" font-size="5.6" textLength="20.6">N(Blue)</text></g>
<path d="M391.6 674.6 C400 674 410 673.4 418 673.6 C423 673.8 427 675 430.6 676.4 C434 678 437 679.6 440 680.8 C443 682.2 446 683.2 449.5 683.2 C454 683 459 682.2 463.6 681.5" fill="none" stroke="#1a1a1a" stroke-width="1.65"/>
<path d="M488 680.4 C492 681 495 681.6 498.2 681.5 C502 681.2 504 680.4 507.6 679.9 L513.6 679.4" fill="none" stroke="#1a1a1a" stroke-width="1.65"/>
<use href="#obase" x="476" y="680.2"/><rect x="486.4" y="677.4" width="2.6" height="5" fill="#222"/><use href="#lid" x="479.8" y="663.6"/><use href="#fscrews" x="479.8" y="663.6"/>
<g fill="#fff" stroke="#111" stroke-width="1.4" stroke-linejoin="round"><path d="M370 593 L374.6 600 L374.8 605.4 L376.2 607.4 L380 607.4 L381.4 605.4 L381.6 600 L386.2 593Z"/><path d="M375 602 H381.4 M375 604.4 H381.4" stroke-width="0.9"/><rect x="376" y="606.2" width="4.2" height="2.2" fill="#111"/><ellipse cx="378.1" cy="592.8" rx="8.1" ry="2.8"/></g>
<use href="#twists" x="394.5" y="582" transform="rotate(180 394.5 591.6)"/>
<g transform="translate(172 421.7)">
<use href="#screw" x="406.6" y="150.4"/>
<use href="#screw" x="385.0" y="167.4"/>
<use href="#screw" x="421.9" y="163.4"/>
<use href="#screw" x="401.9" y="177.4"/>
<use href="#rings" x="404.3" y="186.9"/></g>
<use href="#twist" x="611.7" y="573" transform="rotate(180 611.7 587.9)"/>
<path d="M591.4 683.6 C602 683.2 612 683.2 622.5 683.6 C627 684 631 685.4 634 686.8 C637 688.2 639.6 689.6 642.1 690.6 C646 692 650 692.4 653.6 692.2 C657 691.8 660 691.2 663.4 690.6" fill="none" stroke="#1a1a1a" stroke-width="1.65"/>
<path d="M696 689.3 C699 690 702 690.6 704.2 690.6 C707 690.6 710 690.4 712.3 690.1 L716.6 689" fill="none" stroke="#1a1a1a" stroke-width="1.65"/>
<use href="#cbox" x="679.4" y="688.4"/>
<g transform="translate(149.4 212.2)" stroke="#1a1a1a" stroke-width="1.1" fill="#fff" stroke-linejoin="round">
<path d="M-14.6 14.2 H0 M94 14.6 H103.6" stroke-width="1" fill="none"/><path d="M-14.6 33.8 H0.4 M93.6 32.2 H103.6" stroke-width="2.3" fill="none"/>
<path d="M8.9 0 L0 2.5 L0 14 L1.7 14 L1.7 33.9 L0 33.9 L0 43.6 L1.7 47 L91 47 L91 35.4 L93.6 35.4 L93.6 9.4 L91 9.4 L91 0Z" stroke-width="1.3"/>
<rect x="9.30" y="0" width="9.08" height="8.9"/>
<circle cx="14.24" cy="2.8" r="2.35" fill="#2a2a2a" stroke="none"/><circle cx="14.04" cy="2.3" r="0.7" fill="#999" stroke="none"/>
<rect x="18.38" y="0" width="9.08" height="8.9"/>
<circle cx="23.32" cy="2.8" r="2.35" fill="#2a2a2a" stroke="none"/><circle cx="23.12" cy="2.3" r="0.7" fill="#999" stroke="none"/>
<rect x="27.46" y="0" width="9.08" height="8.9"/>
<circle cx="32.39" cy="2.8" r="2.35" fill="#2a2a2a" stroke="none"/><circle cx="32.19" cy="2.3" r="0.7" fill="#999" stroke="none"/>
<rect x="36.53" y="0" width="9.08" height="8.9"/>
<circle cx="41.47" cy="2.8" r="2.35" fill="#2a2a2a" stroke="none"/><circle cx="41.27" cy="2.3" r="0.7" fill="#999" stroke="none"/>
<rect x="45.61" y="0" width="9.08" height="8.9"/>
<circle cx="50.55" cy="2.8" r="2.35" fill="#2a2a2a" stroke="none"/><circle cx="50.35" cy="2.3" r="0.7" fill="#999" stroke="none"/>
<rect x="54.69" y="0" width="9.08" height="8.9"/>
<circle cx="59.63" cy="2.8" r="2.35" fill="#2a2a2a" stroke="none"/><circle cx="59.43" cy="2.3" r="0.7" fill="#999" stroke="none"/>
<rect x="63.77" y="0" width="9.08" height="8.9"/>
<circle cx="68.71" cy="2.8" r="2.35" fill="#2a2a2a" stroke="none"/><circle cx="68.51" cy="2.3" r="0.7" fill="#999" stroke="none"/>
<rect x="72.84" y="0" width="9.08" height="8.9"/>
<circle cx="77.78" cy="2.8" r="2.35" fill="#2a2a2a" stroke="none"/><circle cx="77.58" cy="2.3" r="0.7" fill="#999" stroke="none"/>
<rect x="81.92" y="0" width="9.08" height="8.9"/>
<circle cx="86.86" cy="2.8" r="2.35" fill="#2a2a2a" stroke="none"/><circle cx="86.66" cy="2.3" r="0.7" fill="#999" stroke="none"/>
<rect x="13.30" y="9.9" width="7.79" height="5.8" stroke-width="0.9"/>
<path d="M14.30 11.6 h5.79" stroke-width="1.7" stroke="#3a3a3a" stroke-dasharray="2.3 0.9"/>
<rect x="13.05" y="16.5" width="8.29" height="9.3" rx="2" fill="#262626" stroke-width="1"/>
<path d="M15.10 19 h4.19 M15.70 21.2 h3.39 M15.10 23.4 h3.99" stroke="#f4f4f4" stroke-width="1.15" fill="none"/>
<rect x="13.30" y="26.4" width="7.79" height="8.2" stroke-width="0.9"/>
<rect x="22.29" y="9.9" width="7.79" height="5.8" stroke-width="0.9"/>
<path d="M23.29 11.6 h5.79" stroke-width="1.7" stroke="#3a3a3a" stroke-dasharray="2.3 0.9"/>
<rect x="22.04" y="16.5" width="8.29" height="9.3" rx="2" fill="#262626" stroke-width="1"/>
<path d="M24.09 19 h4.19 M24.69 21.2 h3.39 M24.09 23.4 h3.99" stroke="#f4f4f4" stroke-width="1.15" fill="none"/>
<rect x="22.29" y="26.4" width="7.79" height="8.2" stroke-width="0.9"/>
<rect x="31.28" y="9.9" width="7.79" height="5.8" stroke-width="0.9"/>
<path d="M32.28 11.6 h5.79" stroke-width="1.7" stroke="#3a3a3a" stroke-dasharray="2.3 0.9"/>
<rect x="31.03" y="16.5" width="8.29" height="9.3" rx="2" fill="#262626" stroke-width="1"/>
<path d="M33.08 19 h4.19 M33.68 21.2 h3.39 M33.08 23.4 h3.99" stroke="#f4f4f4" stroke-width="1.15" fill="none"/>
<rect x="31.28" y="26.4" width="7.79" height="8.2" stroke-width="0.9"/>
<rect x="40.27" y="9.9" width="7.79" height="5.8" stroke-width="0.9"/>
<path d="M41.27 11.6 h5.79" stroke-width="1.7" stroke="#3a3a3a" stroke-dasharray="2.3 0.9"/>
<rect x="40.02" y="16.5" width="8.29" height="9.3" rx="2" fill="#262626" stroke-width="1"/>
<path d="M42.07 19 h4.19 M42.67 21.2 h3.39 M42.07 23.4 h3.99" stroke="#f4f4f4" stroke-width="1.15" fill="none"/>
<rect x="40.27" y="26.4" width="7.79" height="8.2" stroke-width="0.9"/>
<rect x="49.26" y="9.9" width="7.79" height="5.8" stroke-width="0.9"/>
<path d="M50.26 11.6 h5.79" stroke-width="1.7" stroke="#3a3a3a" stroke-dasharray="2.3 0.9"/>
<rect x="49.01" y="16.5" width="8.29" height="9.3" rx="2" fill="#262626" stroke-width="1"/>
<path d="M51.06 19 h4.19 M51.66 21.2 h3.39 M51.06 23.4 h3.99" stroke="#f4f4f4" stroke-width="1.15" fill="none"/>
<rect x="49.26" y="26.4" width="7.79" height="8.2" stroke-width="0.9"/>
<rect x="58.24" y="9.9" width="7.79" height="5.8" stroke-width="0.9"/>
<path d="M59.24 11.6 h5.79" stroke-width="1.7" stroke="#3a3a3a" stroke-dasharray="2.3 0.9"/>
<rect x="57.99" y="16.5" width="8.29" height="9.3" rx="2" fill="#262626" stroke-width="1"/>
<path d="M60.04 19 h4.19 M60.64 21.2 h3.39 M60.04 23.4 h3.99" stroke="#f4f4f4" stroke-width="1.15" fill="none"/>
<rect x="58.24" y="26.4" width="7.79" height="8.2" stroke-width="0.9"/>
<rect x="67.23" y="9.9" width="7.79" height="5.8" stroke-width="0.9"/>
<path d="M68.23 11.6 h5.79" stroke-width="1.7" stroke="#3a3a3a" stroke-dasharray="2.3 0.9"/>
<rect x="66.98" y="16.5" width="8.29" height="9.3" rx="2" fill="#262626" stroke-width="1"/>
<path d="M69.03 19 h4.19 M69.63 21.2 h3.39 M69.03 23.4 h3.99" stroke="#f4f4f4" stroke-width="1.15" fill="none"/>
<rect x="67.23" y="26.4" width="7.79" height="8.2" stroke-width="0.9"/>
<rect x="76.22" y="9.9" width="7.79" height="5.8" stroke-width="0.9"/>
<path d="M77.22 11.6 h5.79" stroke-width="1.7" stroke="#3a3a3a" stroke-dasharray="2.3 0.9"/>
<rect x="75.97" y="16.5" width="8.29" height="9.3" rx="2" fill="#262626" stroke-width="1"/>
<path d="M78.02 19 h4.19 M78.62 21.2 h3.39 M78.02 23.4 h3.99" stroke="#f4f4f4" stroke-width="1.15" fill="none"/>
<rect x="76.22" y="26.4" width="7.79" height="8.2" stroke-width="0.9"/>
<rect x="85.21" y="9.9" width="7.79" height="5.8" stroke-width="0.9"/>
<path d="M86.21 11.6 h5.79" stroke-width="1.7" stroke="#3a3a3a" stroke-dasharray="2.3 0.9"/>
<rect x="84.96" y="16.5" width="8.29" height="9.3" rx="2" fill="#262626" stroke-width="1"/>
<path d="M87.01 19 h4.19 M87.61 21.2 h3.39 M87.01 23.4 h3.99" stroke="#f4f4f4" stroke-width="1.15" fill="none"/>
<rect x="85.21" y="26.4" width="7.79" height="8.2" stroke-width="0.9"/>
<rect x="10.20" y="35.6" width="8.98" height="11"/>
<path d="M12.39 45.6 l0 -3 a2.3 2.6 0 0 1 4.6 0 l0 3Z" fill="#2a2a2a" stroke="#111" stroke-width="0.8"/>
<circle cx="14.69" cy="43" r="0.9" fill="#888" stroke="none"/>
<rect x="19.18" y="35.6" width="8.98" height="11"/>
<path d="M21.37 45.6 l0 -3 a2.3 2.6 0 0 1 4.6 0 l0 3Z" fill="#2a2a2a" stroke="#111" stroke-width="0.8"/>
<circle cx="23.67" cy="43" r="0.9" fill="#888" stroke="none"/>
<rect x="28.16" y="35.6" width="8.98" height="11"/>
<path d="M30.34 45.6 l0 -3 a2.3 2.6 0 0 1 4.6 0 l0 3Z" fill="#2a2a2a" stroke="#111" stroke-width="0.8"/>
<circle cx="32.64" cy="43" r="0.9" fill="#888" stroke="none"/>
<rect x="37.13" y="35.6" width="8.98" height="11"/>
<path d="M39.32 45.6 l0 -3 a2.3 2.6 0 0 1 4.6 0 l0 3Z" fill="#2a2a2a" stroke="#111" stroke-width="0.8"/>
<circle cx="41.62" cy="43" r="0.9" fill="#888" stroke="none"/>
<rect x="46.11" y="35.6" width="8.98" height="11"/>
<path d="M48.30 45.6 l0 -3 a2.3 2.6 0 0 1 4.6 0 l0 3Z" fill="#2a2a2a" stroke="#111" stroke-width="0.8"/>
<circle cx="50.60" cy="43" r="0.9" fill="#888" stroke="none"/>
<rect x="55.09" y="35.6" width="8.98" height="11"/>
<path d="M57.28 45.6 l0 -3 a2.3 2.6 0 0 1 4.6 0 l0 3Z" fill="#2a2a2a" stroke="#111" stroke-width="0.8"/>
<circle cx="59.58" cy="43" r="0.9" fill="#888" stroke="none"/>
<rect x="64.07" y="35.6" width="8.98" height="11"/>
<path d="M66.26 45.6 l0 -3 a2.3 2.6 0 0 1 4.6 0 l0 3Z" fill="#2a2a2a" stroke="#111" stroke-width="0.8"/>
<circle cx="68.56" cy="43" r="0.9" fill="#888" stroke="none"/>
<rect x="73.04" y="35.6" width="8.98" height="11"/>
<path d="M75.23 45.6 l0 -3 a2.3 2.6 0 0 1 4.6 0 l0 3Z" fill="#2a2a2a" stroke="#111" stroke-width="0.8"/>
<circle cx="77.53" cy="43" r="0.9" fill="#888" stroke="none"/>
<rect x="82.02" y="35.6" width="8.98" height="11"/>
<path d="M84.21 45.6 l0 -3 a2.3 2.6 0 0 1 4.6 0 l0 3Z" fill="#2a2a2a" stroke="#111" stroke-width="0.8"/>
<circle cx="86.51" cy="43" r="0.9" fill="#888" stroke="none"/>
</g>
<g transform="translate(0.0 0.0)" stroke="#1a1a1a" stroke-width="1.45" fill="#fff" stroke-linejoin="round" stroke-linecap="round">
<path d="M205.4 233.6 C206.6 242 208.8 250 210.4 256.3 C211.6 262 213 266 213.8 269.6 C215 274 215.8 279 215.4 284 C215 289 214.4 293 213.8 297 L236 286 L239 274 C236 273.4 234 273.6 232.2 273 C229.4 271.4 228 270 227.3 268.2 C225.6 263.6 224 259 222.3 254.6 C220.6 250.6 219 247.6 217.2 244.5 C216 242.6 214.6 241 213 239.8 C210.4 235.2 206.6 231.4 205.4 233.6Z" stroke="none"/>
<path d="M213.8 297 C214.4 293 215 289 215.4 284 C215.8 279 215 274 213.8 269.6 C213 266 211.6 262 210.4 256.3 C208.8 250 206.6 242 205.4 233.6 C206.6 231.4 210.4 235.2 213 239.8 C214.6 241 216 242.6 217.2 244.5 C219 247.6 220.6 250.6 222.3 254.6 C224 259 225.6 263.6 227.3 268.2 C228 270 229.4 271.4 232.2 273 C234 273.6 236.6 273.2 239.2 273.7 C241.6 274.4 243.2 275.4 244.3 276.8" fill="none"/>
<ellipse cx="209.6" cy="237.6" rx="4" ry="1.5" transform="rotate(42 209.6 237.6)" fill="#fff" stroke-width="1"/>
<path d="M213 271.2 C209 272.6 205.6 275 203.6 277.9 C203.6 281 204.4 284 205.3 286.8 C208 290.6 211 294 213.4 297" fill="#fff"/>
<path d="M207 280.9 H214.4" fill="none" stroke-width="1.1"/>
<path d="M204.2 286.8 C201 288.6 198.6 291.6 196.9 294.9" fill="none"/>
</g>
<g transform="translate(159.3 809.8)" stroke="#1a1a1a" stroke-width="1.1" fill="#fff" stroke-linejoin="round">
<path d="M-14.6 15.4 H0 M94 15.4 H103.6" stroke-width="1" fill="none"/><path d="M-14.6 34.1 H0.4 M93.6 33.5 H103.6" stroke-width="2.3" fill="none"/>
<path d="M8.9 0 L0 2.5 L0 14 L1.7 14 L1.7 33.9 L0 33.9 L0 43.6 L1.7 47 L91 47 L91 35.4 L93.6 35.4 L93.6 9.4 L91 9.4 L91 0Z" stroke-width="1.3"/>
<rect x="9.30" y="0" width="9.08" height="8.9"/>
<circle cx="14.24" cy="2.8" r="2.35" fill="#2a2a2a" stroke="none"/><circle cx="14.04" cy="2.3" r="0.7" fill="#999" stroke="none"/>
<rect x="18.38" y="0" width="9.08" height="8.9"/>
<circle cx="23.32" cy="2.8" r="2.35" fill="#2a2a2a" stroke="none"/><circle cx="23.12" cy="2.3" r="0.7" fill="#999" stroke="none"/>
<rect x="27.46" y="0" width="9.08" height="8.9"/>
<circle cx="32.39" cy="2.8" r="2.35" fill="#2a2a2a" stroke="none"/><circle cx="32.19" cy="2.3" r="0.7" fill="#999" stroke="none"/>
<rect x="36.53" y="0" width="9.08" height="8.9"/>
<circle cx="41.47" cy="2.8" r="2.35" fill="#2a2a2a" stroke="none"/><circle cx="41.27" cy="2.3" r="0.7" fill="#999" stroke="none"/>
<rect x="45.61" y="0" width="9.08" height="8.9"/>
<circle cx="50.55" cy="2.8" r="2.35" fill="#2a2a2a" stroke="none"/><circle cx="50.35" cy="2.3" r="0.7" fill="#999" stroke="none"/>
<rect x="54.69" y="0" width="9.08" height="8.9"/>
<circle cx="59.63" cy="2.8" r="2.35" fill="#2a2a2a" stroke="none"/><circle cx="59.43" cy="2.3" r="0.7" fill="#999" stroke="none"/>
<rect x="63.77" y="0" width="9.08" height="8.9"/>
<circle cx="68.71" cy="2.8" r="2.35" fill="#2a2a2a" stroke="none"/><circle cx="68.51" cy="2.3" r="0.7" fill="#999" stroke="none"/>
<rect x="72.84" y="0" width="9.08" height="8.9"/>
<circle cx="77.78" cy="2.8" r="2.35" fill="#2a2a2a" stroke="none"/><circle cx="77.58" cy="2.3" r="0.7" fill="#999" stroke="none"/>
<rect x="81.92" y="0" width="9.08" height="8.9"/>
<circle cx="86.86" cy="2.8" r="2.35" fill="#2a2a2a" stroke="none"/><circle cx="86.66" cy="2.3" r="0.7" fill="#999" stroke="none"/>
<rect x="13.30" y="9.9" width="7.79" height="5.8" stroke-width="0.9"/>
<path d="M14.30 11.6 h5.79" stroke-width="1.7" stroke="#3a3a3a" stroke-dasharray="2.3 0.9"/>
<rect x="13.60" y="16.4" width="7.39" height="9.2" rx="1.6" fill="#fff" stroke-width="1.5"/>
<rect x="15.10" y="19.6" width="4.19" height="4.6" fill="#fff" stroke-width="1"/>
<rect x="13.30" y="26.4" width="7.79" height="8.2" stroke-width="0.9"/>
<rect x="22.29" y="9.9" width="7.79" height="5.8" stroke-width="0.9"/>
<path d="M23.29 11.6 h5.79" stroke-width="1.7" stroke="#3a3a3a" stroke-dasharray="2.3 0.9"/>
<rect x="22.59" y="16.4" width="7.39" height="9.2" rx="1.6" fill="#fff" stroke-width="1.5"/>
<rect x="24.09" y="19.6" width="4.19" height="4.6" fill="#fff" stroke-width="1"/>
<rect x="22.29" y="26.4" width="7.79" height="8.2" stroke-width="0.9"/>
<rect x="31.28" y="9.9" width="7.79" height="5.8" stroke-width="0.9"/>
<path d="M32.28 11.6 h5.79" stroke-width="1.7" stroke="#3a3a3a" stroke-dasharray="2.3 0.9"/>
<rect x="31.58" y="16.4" width="7.39" height="9.2" rx="1.6" fill="#fff" stroke-width="1.5"/>
<rect x="33.08" y="19.6" width="4.19" height="4.6" fill="#fff" stroke-width="1"/>
<rect x="31.28" y="26.4" width="7.79" height="8.2" stroke-width="0.9"/>
<rect x="40.27" y="9.9" width="7.79" height="5.8" stroke-width="0.9"/>
<path d="M41.27 11.6 h5.79" stroke-width="1.7" stroke="#3a3a3a" stroke-dasharray="2.3 0.9"/>
<rect x="40.57" y="16.4" width="7.39" height="9.2" rx="1.6" fill="#fff" stroke-width="1.5"/>
<rect x="42.07" y="19.6" width="4.19" height="4.6" fill="#fff" stroke-width="1"/>
<rect x="40.27" y="26.4" width="7.79" height="8.2" stroke-width="0.9"/>
<rect x="49.26" y="9.9" width="7.79" height="5.8" stroke-width="0.9"/>
<path d="M50.26 11.6 h5.79" stroke-width="1.7" stroke="#3a3a3a" stroke-dasharray="2.3 0.9"/>
<rect x="49.56" y="16.4" width="7.39" height="9.2" rx="1.6" fill="#fff" stroke-width="1.5"/>
<rect x="51.06" y="19.6" width="4.19" height="4.6" fill="#fff" stroke-width="1"/>
<rect x="49.26" y="26.4" width="7.79" height="8.2" stroke-width="0.9"/>
<rect x="58.24" y="9.9" width="7.79" height="5.8" stroke-width="0.9"/>
<path d="M59.24 11.6 h5.79" stroke-width="1.7" stroke="#3a3a3a" stroke-dasharray="2.3 0.9"/>
<rect x="58.54" y="16.4" width="7.39" height="9.2" rx="1.6" fill="#fff" stroke-width="1.5"/>
<rect x="60.04" y="19.6" width="4.19" height="4.6" fill="#fff" stroke-width="1"/>
<rect x="58.24" y="26.4" width="7.79" height="8.2" stroke-width="0.9"/>
<rect x="67.23" y="9.9" width="7.79" height="5.8" stroke-width="0.9"/>
<path d="M68.23 11.6 h5.79" stroke-width="1.7" stroke="#3a3a3a" stroke-dasharray="2.3 0.9"/>
<rect x="67.53" y="16.4" width="7.39" height="9.2" rx="1.6" fill="#fff" stroke-width="1.5"/>
<rect x="69.03" y="19.6" width="4.19" height="4.6" fill="#fff" stroke-width="1"/>
<rect x="67.23" y="26.4" width="7.79" height="8.2" stroke-width="0.9"/>
<rect x="76.22" y="9.9" width="7.79" height="5.8" stroke-width="0.9"/>
<path d="M77.22 11.6 h5.79" stroke-width="1.7" stroke="#3a3a3a" stroke-dasharray="2.3 0.9"/>
<rect x="76.52" y="16.4" width="7.39" height="9.2" rx="1.6" fill="#fff" stroke-width="1.5"/>
<rect x="78.02" y="19.6" width="4.19" height="4.6" fill="#fff" stroke-width="1"/>
<rect x="76.22" y="26.4" width="7.79" height="8.2" stroke-width="0.9"/>
<rect x="85.21" y="9.9" width="7.79" height="5.8" stroke-width="0.9"/>
<path d="M86.21 11.6 h5.79" stroke-width="1.7" stroke="#3a3a3a" stroke-dasharray="2.3 0.9"/>
<rect x="85.51" y="16.4" width="7.39" height="9.2" rx="1.6" fill="#fff" stroke-width="1.5"/>
<rect x="87.01" y="19.6" width="4.19" height="4.6" fill="#fff" stroke-width="1"/>
<rect x="85.21" y="26.4" width="7.79" height="8.2" stroke-width="0.9"/>
<rect x="10.20" y="35.6" width="8.98" height="11"/>
<path d="M12.39 45.6 l0 -3 a2.3 2.6 0 0 1 4.6 0 l0 3Z" fill="#2a2a2a" stroke="#111" stroke-width="0.8"/>
<circle cx="14.69" cy="43" r="0.9" fill="#888" stroke="none"/>
<rect x="19.18" y="35.6" width="8.98" height="11"/>
<path d="M21.37 45.6 l0 -3 a2.3 2.6 0 0 1 4.6 0 l0 3Z" fill="#2a2a2a" stroke="#111" stroke-width="0.8"/>
<circle cx="23.67" cy="43" r="0.9" fill="#888" stroke="none"/>
<rect x="28.16" y="35.6" width="8.98" height="11"/>
<path d="M30.34 45.6 l0 -3 a2.3 2.6 0 0 1 4.6 0 l0 3Z" fill="#2a2a2a" stroke="#111" stroke-width="0.8"/>
<circle cx="32.64" cy="43" r="0.9" fill="#888" stroke="none"/>
<rect x="37.13" y="35.6" width="8.98" height="11"/>
<path d="M39.32 45.6 l0 -3 a2.3 2.6 0 0 1 4.6 0 l0 3Z" fill="#2a2a2a" stroke="#111" stroke-width="0.8"/>
<circle cx="41.62" cy="43" r="0.9" fill="#888" stroke="none"/>
<rect x="46.11" y="35.6" width="8.98" height="11"/>
<path d="M48.30 45.6 l0 -3 a2.3 2.6 0 0 1 4.6 0 l0 3Z" fill="#2a2a2a" stroke="#111" stroke-width="0.8"/>
<circle cx="50.60" cy="43" r="0.9" fill="#888" stroke="none"/>
<rect x="55.09" y="35.6" width="8.98" height="11"/>
<path d="M57.28 45.6 l0 -3 a2.3 2.6 0 0 1 4.6 0 l0 3Z" fill="#2a2a2a" stroke="#111" stroke-width="0.8"/>
<circle cx="59.58" cy="43" r="0.9" fill="#888" stroke="none"/>
<rect x="64.07" y="35.6" width="8.98" height="11"/>
<path d="M66.26 45.6 l0 -3 a2.3 2.6 0 0 1 4.6 0 l0 3Z" fill="#2a2a2a" stroke="#111" stroke-width="0.8"/>
<circle cx="68.56" cy="43" r="0.9" fill="#888" stroke="none"/>
<rect x="73.04" y="35.6" width="8.98" height="11"/>
<path d="M75.23 45.6 l0 -3 a2.3 2.6 0 0 1 4.6 0 l0 3Z" fill="#2a2a2a" stroke="#111" stroke-width="0.8"/>
<circle cx="77.53" cy="43" r="0.9" fill="#888" stroke="none"/>
<rect x="82.02" y="35.6" width="8.98" height="11"/>
<path d="M84.21 45.6 l0 -3 a2.3 2.6 0 0 1 4.6 0 l0 3Z" fill="#2a2a2a" stroke="#111" stroke-width="0.8"/>
<circle cx="86.51" cy="43" r="0.9" fill="#888" stroke="none"/>
</g>
<g transform="translate(8.5 594.0)" stroke="#1a1a1a" stroke-width="1.45" fill="#fff" stroke-linejoin="round" stroke-linecap="round">
<path d="M205.4 233.6 C206.6 242 208.8 250 210.4 256.3 C211.6 262 213 266 213.8 269.6 C215 274 215.8 279 215.4 284 C215 289 214.4 293 213.8 297 L236 286 L239 274 C236 273.4 234 273.6 232.2 273 C229.4 271.4 228 270 227.3 268.2 C225.6 263.6 224 259 222.3 254.6 C220.6 250.6 219 247.6 217.2 244.5 C216 242.6 214.6 241 213 239.8 C210.4 235.2 206.6 231.4 205.4 233.6Z" stroke="none"/>
<path d="M213.8 297 C214.4 293 215 289 215.4 284 C215.8 279 215 274 213.8 269.6 C213 266 211.6 262 210.4 256.3 C208.8 250 206.6 242 205.4 233.6 C206.6 231.4 210.4 235.2 213 239.8 C214.6 241 216 242.6 217.2 244.5 C219 247.6 220.6 250.6 222.3 254.6 C224 259 225.6 263.6 227.3 268.2 C228 270 229.4 271.4 232.2 273 C234 273.6 236.6 273.2 239.2 273.7 C241.6 274.4 243.2 275.4 244.3 276.8" fill="none"/>
<ellipse cx="209.6" cy="237.6" rx="4" ry="1.5" transform="rotate(42 209.6 237.6)" fill="#fff" stroke-width="1"/>
<path d="M213 271.2 C209 272.6 205.6 275 203.6 277.9 C203.6 281 204.4 284 205.3 286.8 C208 290.6 211 294 213.4 297" fill="#fff"/>
<path d="M207 280.9 H214.4" fill="none" stroke-width="1.1"/>
<path d="M204.2 286.8 C201 288.6 198.6 291.6 196.9 294.9" fill="none"/>
</g>
<g fill="none" stroke="#2a2a2a" stroke-width="1.3" stroke-linejoin="round" stroke-linecap="round"><path d="M273.2 210 C278 214.4 281.6 222 281.4 231.2 C281.2 237 280 241.6 278 245.4"/><path d="M271.9 242.7 L282.5 248.6 L267.6 262.4Z" fill="#fff"/><path d="M271 247.4 C273.4 252 277 253.6 280.4 250.4 M269.4 255.4 L275.6 254.6" stroke-width="1"/></g>
<g fill="none" stroke="#3c3c3c" stroke-width="1.35" stroke-linejoin="miter"><rect x="262.6" y="271.6" width="11.2" height="16.4"/><path d="M278.9 288.4 V271.6 H289.9 M278.9 279.8 H285.8"/><path d="M295.5 288.4 V271.6 H307 M295.5 279.8 H302.1"/></g>
<g fill="none" stroke="#2a2a2a" stroke-width="1.3" stroke-linejoin="round" stroke-linecap="round"><path d="M276.8 859.7 C281.6 852 283.6 844 283 836 C282.6 831 281.4 827.4 279.9 823.8"/><path d="M273.1 827.9 L284.6 820.7 L270 807.7Z" fill="#fff"/><path d="M272.4 821.6 C275 817.6 278.6 816.6 281.6 818.4 M271.4 814.6 L277.4 815.8" stroke-width="1"/></g>
<g fill="none" stroke="#3c3c3c" stroke-width="1.35" stroke-linejoin="miter"><rect x="269.6" y="869.6" width="11.6" height="16.8"/><path d="M285.9 886.8 V869.6 L298.2 886.4 V869.2"/></g>
<rect x="560.4" y="788.2" width="149" height="149" rx="26.5" fill="none" stroke="#1a1a1a" stroke-width="3.4"/>
<ellipse cx="616.5" cy="858.4" rx="32.1" ry="41" fill="none" stroke="#1a1a1a" stroke-width="3.2"/>
<path d="M600.2 852.3 H685.2 V853.6 H600.2Z M600.7 853.2 L624.3 853.2 L612.5 872.7Z M625.9 853.2 L649 853.2 L637 872.7Z M651.2 853.2 L673.2 853.2 L662 872.7Z M674.2 853.2 L685.2 853.2 L685.2 872.7 L684.4 872.7Z" fill="#1a1a1a"/>
<text x="583" y="920.6" font-family="Liberation Sans, sans-serif" font-size="25.5" fill="#1a1a1a" textLength="102.4" lengthAdjust="spacingAndGlyphs">&#981;104mm</text>
</svg>
</body></html>
